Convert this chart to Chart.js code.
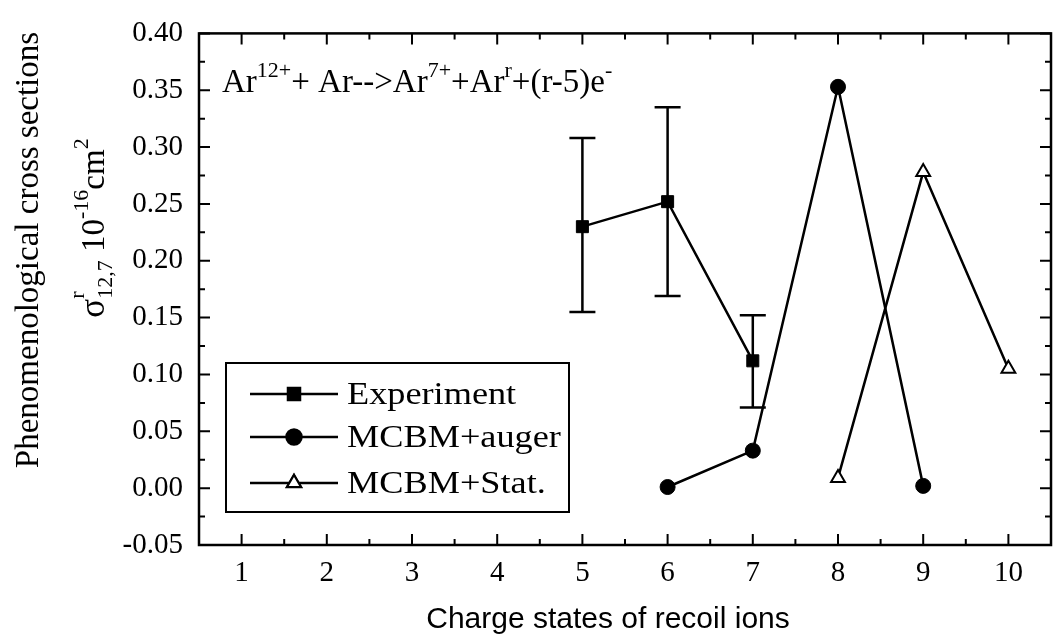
<!DOCTYPE html>
<html>
<head>
<meta charset="utf-8">
<script src="https://cdn.jsdelivr.net/npm/chart.js@4.4.1/dist/chart.umd.min.js"></script>
<style>
  html, body { margin: 0; padding: 0; background: #fff; }
</style>
</head>
<body>
<canvas id="crossChart" width="1061" height="640"></canvas>
<script>
// values
const expX = [5, 6, 7];
const expY = [0.230, 0.252, 0.112];
const expLow = [0.155, 0.169, 0.071];
const expHigh = [0.308, 0.335, 0.152];

const augerX = [6, 7, 8, 9];
const augerY = [0.001, 0.033, 0.353, 0.002];

const statX = [8, 9, 10];
const statY = [0.009, 0.278, 0.105];

const xTicks = [1, 2, 3, 4, 5, 6, 7, 8, 9, 10];
const yTicks = [-0.05, 0.00, 0.05, 0.10, 0.15, 0.20, 0.25, 0.30, 0.35, 0.40];

const seriesNames = ['Experiment', 'MCBM+auger', 'MCBM+Stat.'];

const SERIF = '"Liberation Serif", "Times New Roman", serif';
const SANS = '"Liberation Sans", Arial, sans-serif';

const toPoints = (xs, ys) => xs.map((x, i) => ({ x: x, y: ys[i] }));

// draws a run of text pieces (normal / raised / lowered), returns width
function drawRich(ctx, x, y, parts, measureOnly) {
    let cx = x;
    parts.forEach(p => {
        if (p.stack) {
            let w = 0;
            p.stack.forEach(s => {
                ctx.font = s.size + 'px ' + SERIF;
                if (!measureOnly) ctx.fillText(s.t, cx, y + s.dy);
                w = Math.max(w, ctx.measureText(s.t).width);
            });
            cx += w;
        } else {
            ctx.font = p.size + 'px ' + SERIF;
            if (!measureOnly) ctx.fillText(p.t, cx, y + (p.dy || 0));
            cx += ctx.measureText(p.t).width;
        }
    });
    return cx - x;
}

const errorBars = {
    id: 'errorBars',
    beforeDatasetsDraw(chart) {
        const ctx = chart.ctx, xs = chart.scales.x, ys = chart.scales.y;
        ctx.save();
        ctx.strokeStyle = '#000';
        ctx.lineWidth = 2.5;
        expX.forEach((v, i) => {
            const px = xs.getPixelForValue(v);
            const top = ys.getPixelForValue(expHigh[i]);
            const bot = ys.getPixelForValue(expLow[i]);
            ctx.beginPath();
            ctx.moveTo(px, top); ctx.lineTo(px, bot);
            ctx.moveTo(px - 13, top); ctx.lineTo(px + 13, top);
            ctx.moveTo(px - 13, bot); ctx.lineTo(px + 13, bot);
            ctx.stroke();
        });
        ctx.restore();
    }
};

const frameAndText = {
    id: 'frameAndText',
    afterDraw(chart) {
        const ctx = chart.ctx, a = chart.chartArea;
        const xs = chart.scales.x, ys = chart.scales.y;
        ctx.save();
        ctx.strokeStyle = '#000';
        ctx.fillStyle = '#000';

        // frame
        ctx.lineWidth = 2.5;
        ctx.strokeRect(a.left, a.top, a.right - a.left, a.bottom - a.top);

        // inward ticks on all four sides
        ctx.lineWidth = 2;
        ctx.beginPath();
        const xMinor = xTicks.slice(1).map((v, i) => (v + xTicks[i]) / 2);
        const yMinor = yTicks.slice(1).map((v, i) => (v + yTicks[i]) / 2);
        xTicks.forEach(v => {
            const p = xs.getPixelForValue(v);
            ctx.moveTo(p, a.bottom); ctx.lineTo(p, a.bottom - 11);
            ctx.moveTo(p, a.top); ctx.lineTo(p, a.top + 11);
        });
        xMinor.forEach(v => {
            const p = xs.getPixelForValue(v);
            ctx.moveTo(p, a.bottom); ctx.lineTo(p, a.bottom - 6);
            ctx.moveTo(p, a.top); ctx.lineTo(p, a.top + 6);
        });
        yTicks.forEach(v => {
            const p = ys.getPixelForValue(v);
            ctx.moveTo(a.left, p); ctx.lineTo(a.left + 11, p);
            ctx.moveTo(a.right, p); ctx.lineTo(a.right - 11, p);
        });
        yMinor.forEach(v => {
            const p = ys.getPixelForValue(v);
            ctx.moveTo(a.left, p); ctx.lineTo(a.left + 6, p);
            ctx.moveTo(a.right, p); ctx.lineTo(a.right - 6, p);
        });
        ctx.stroke();

        // reaction label
        ctx.textBaseline = 'alphabetic';
        ctx.textAlign = 'left';
        drawRich(ctx, 222, 92, [
            { t: 'Ar', size: 33 }, { t: '12+', size: 22, dy: -15 },
            { t: '+ Ar-->Ar', size: 33 }, { t: '7+', size: 22, dy: -15 },
            { t: '+Ar', size: 33 }, { t: 'r', size: 22, dy: -15 },
            { t: '+(r-5)e', size: 33 }, { t: '-', size: 22, dy: -15 }
        ]);

        // y axis title (two rotated lines)
        ctx.save();
        ctx.translate(29, 250);
        ctx.rotate(-Math.PI / 2);
        ctx.font = '33px ' + SERIF;
        ctx.textAlign = 'center';
        ctx.textBaseline = 'middle';
        ctx.fillText('Phenomenological cross sections', 0, 0);
        ctx.restore();

        const line2 = [
            { t: 'σ', size: 35 },
            { stack: [{ t: 'r', size: 22, dy: -20 }, { t: '12,7', size: 22, dy: 8 }] },
            { t: ' 10', size: 33 }, { t: '-16', size: 22, dy: -16 },
            { t: 'cm', size: 33 }, { t: '2', size: 22, dy: -16 }
        ];
        ctx.save();
        ctx.textAlign = 'left';
        ctx.textBaseline = 'alphabetic';
        const w2 = drawRich(ctx, 0, 0, line2, true);
        ctx.translate(104, 228);
        ctx.rotate(-Math.PI / 2);
        drawRich(ctx, -w2 / 2, 0, line2);
        ctx.restore();

        // x axis title
        ctx.font = '30px ' + SANS;
        ctx.textAlign = 'center';
        ctx.textBaseline = 'alphabetic';
        ctx.fillText('Charge states of recoil ions', 608, 628);

        // legend box
        ctx.lineWidth = 2;
        ctx.strokeRect(226, 363, 343, 149);
        const rows = [394, 437, 483];
        chart.data.datasets.forEach((ds, i) => {
            const yy = rows[i];
            ctx.lineWidth = 2.5;
            ctx.beginPath();
            ctx.moveTo(250, yy); ctx.lineTo(338, yy);
            ctx.stroke();
            Chart.helpers.drawPoint(ctx, {
                pointStyle: ds.pointStyle, radius: ds.pointRadius,
                borderWidth: ds.pointBorderWidth, rotation: 0
            }, 294, yy);
            ctx.save();
            ctx.fillStyle = ds.pointBackgroundColor;
            ctx.strokeStyle = '#000';
            ctx.lineWidth = ds.pointBorderWidth;
            ctx.fill();
            ctx.stroke();
            ctx.restore();
            ctx.save();
            ctx.translate(347, yy + 10);
            ctx.scale(1.17, 1);
            ctx.fillStyle = '#000';
            ctx.font = '31px ' + SERIF;
            ctx.textAlign = 'left';
            ctx.fillText(ds.label, 0, 0);
            ctx.restore();
        });

        ctx.restore();
    }
};

const ctx = document.getElementById('crossChart').getContext('2d');
new Chart(ctx, {
    type: 'line',
    data: {
        datasets: [
            { label: seriesNames[0], data: toPoints(expX, expY), borderColor: '#000', borderWidth: 2.5,
              pointStyle: 'rect', pointRadius: 8.5, pointBackgroundColor: '#000', pointBorderColor: '#000', pointBorderWidth: 1 },
            { label: seriesNames[1], data: toPoints(augerX, augerY), borderColor: '#000', borderWidth: 2.5,
              pointStyle: 'circle', pointRadius: 7.5, pointBackgroundColor: '#000', pointBorderColor: '#000', pointBorderWidth: 1 },
            { label: seriesNames[2], data: toPoints(statX, statY), borderColor: '#000', borderWidth: 2.5,
              pointStyle: 'triangle', pointRadius: 8, pointBackgroundColor: '#fff', pointBorderColor: '#000', pointBorderWidth: 2 }
        ]
    },
    options: {
        responsive: false,
        animation: false,
        devicePixelRatio: 1,
        layout: { padding: { left: 0, right: 4, top: 22, bottom: 0 } },
        plugins: {
            legend: { display: false },
            tooltip: { enabled: false },
            title: { display: false }
        },
        scales: {
            x: {
                type: 'linear', min: 0.5, max: 10.5,
                afterBuildTicks: s => { s.ticks = xTicks.map(v => ({ value: v })); },
                afterFit: s => { s.height = 95; },
                grid: { display: false, drawTicks: false },
                border: { display: false },
                ticks: { color: '#000', padding: 11, font: { family: SERIF, size: 29 } }
            },
            y: {
                min: -0.05, max: 0.40,
                afterBuildTicks: s => { s.ticks = yTicks.map(v => ({ value: v })); },
                afterFit: s => { s.width = 199; },
                grid: { display: false, drawTicks: false },
                border: { display: false },
                ticks: { color: '#000', padding: 16, font: { family: SERIF, size: 29 },
                         callback: v => v.toFixed(2) }
            }
        }
    },
    plugins: [errorBars, frameAndText]
});
</script>
</body>
</html>
